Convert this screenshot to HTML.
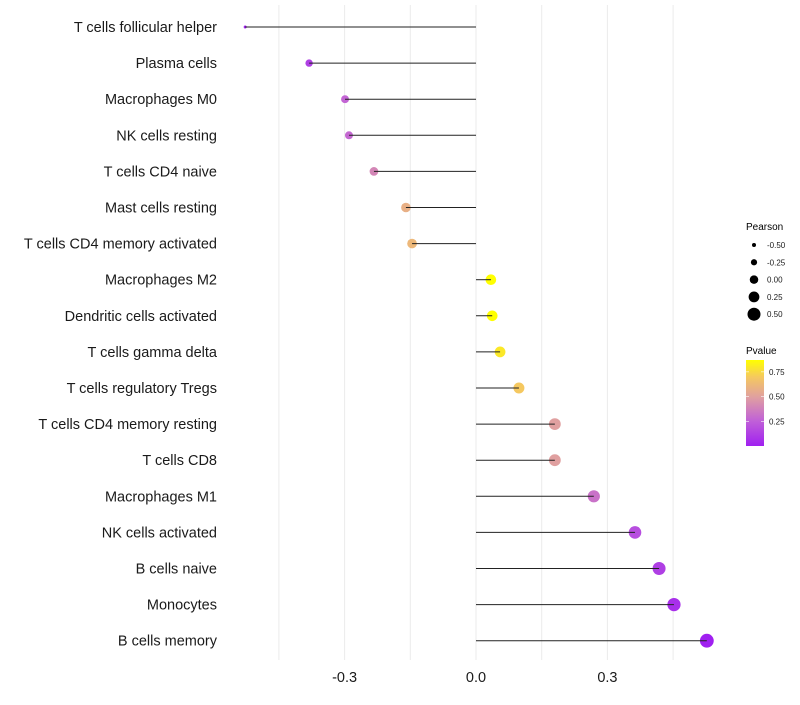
<!DOCTYPE html>
<html><head><meta charset="utf-8"><style>
body{margin:0;background:#fff;font-family:"Liberation Sans",sans-serif;}
svg text{font-family:"Liberation Sans",sans-serif;}
</style></head><body>
<svg id="chart" width="800" height="700" xmlns="http://www.w3.org/2000/svg">
<defs><linearGradient id="pg" x1="0" y1="1" x2="0" y2="0">
<stop offset="0" stop-color="#A020F0"/><stop offset="0.29" stop-color="#C060D8"/><stop offset="0.57" stop-color="#E0A0A0"/><stop offset="0.8" stop-color="#F5C860"/><stop offset="1" stop-color="#FFFF00"/></linearGradient></defs>
<g id="grid"></g>
<g id="dots"></g>
<g id="marks"></g>
<g id="labels"></g>
<g id="xt"></g>
<g>
<text x="746" y="230" font-size="10" fill="#000">Pearson</text>
<g id="sizeleg"></g>
</g>
<g>
<text x="746" y="354" font-size="10" fill="#000">Pvalue</text>
<rect x="746" y="360" width="18" height="86" fill="url(#pg)"/>
<g id="cbleg"></g>
</g>
</svg>
<script>
const categories=["T cells follicular helper","Plasma cells","Macrophages M0","NK cells resting","T cells CD4 naive","Mast cells resting","T cells CD4 memory activated","Macrophages M2","Dendritic cells activated","T cells gamma delta","T cells regulatory  Tregs ","T cells CD4 memory resting","T cells CD8","Macrophages M1","NK cells activated","B cells naive","Monocytes","B cells memory"];
const pearson=[-0.527,-0.381,-0.299,-0.29,-0.233,-0.16,-0.146,0.034,0.037,0.055,0.098,0.18,0.18,0.269,0.363,0.418,0.452,0.527];
const pvalue=[0.0,0.12,0.27,0.28,0.4,0.58,0.62,0.87,0.87,0.8,0.7,0.5,0.5,0.32,0.18,0.12,0.06,0.0];
const xTicks=[-0.3,0,0.3];
const xGrid=[-0.45,-0.3,-0.15,0,0.15,0.3,0.45];
const sizeBreaks=[-0.5,-0.25,0,0.25,0.5];
const cbBreaks=[0.25,0.5,0.75];
const NS="http://www.w3.org/2000/svg";
const x=v=>476+v*438;
const y=i=>27+i*36.1;
const rv=[-0.6,-0.527,-0.381,-0.29,-0.16,0.034,0.1,0.18,0.27,0.36,0.45,0.6];
const rr=[1.5,1.5,3.7,4,4.8,5.3,5.5,5.9,6.1,6.3,6.6,7.2];
function r(v){for(let i=1;i<rv.length;i++){if(v<=rv[i]){return rr[i-1]+(rr[i]-rr[i-1])*(v-rv[i-1])/(rv[i]-rv[i-1]);}}return 7.2;}
const lr=v=>2+(v+0.5)*4.5;
const cby=p=>446-p/0.87*86;
function lerp(a,b,t){return a.map((c,i)=>Math.round(c+(b[i]-c)*t));}
const stops=[[0,[160,32,240]],[0.25,[192,96,216]],[0.5,[224,160,160]],[0.7,[245,200,96]],[0.87,[255,255,0]]];
function col(p){for(let i=1;i<stops.length;i++){if(p<=stops[i][0]){const t=(p-stops[i-1][0])/(stops[i][0]-stops[i-1][0]);return "rgb("+lerp(stops[i-1][1],stops[i][1],t).join(",")+")";}}return "rgb(255,255,0)";}
function mk(t,a,parent){const e=document.createElementNS(NS,t);for(const k in a)e.setAttribute(k,a[k]);document.getElementById(parent).appendChild(e);return e;}
xGrid.forEach(v=>{const l=mk("line",{x1:x(v),x2:x(v),y1:5,y2:660,stroke:"#ebebeb","stroke-width":1},"grid");

});
categories.forEach((c,i)=>{
const d=mk("circle",{cx:x(pearson[i]),cy:y(i),r:r(pearson[i]),fill:col(pvalue[i])},"dots");


const l=mk("line",{x1:x(0),x2:x(pearson[i]),y1:y(i),y2:y(i),stroke:"#222","stroke-width":1},"marks");


const t=mk("text",{x:217,y:y(i)+5,"text-anchor":"end","font-size":14.5,fill:"#1a1a1a"},"labels");t.textContent=c;


});
xTicks.forEach(v=>{const t=mk("text",{x:x(v),y:682,"text-anchor":"middle","font-size":14.5,fill:"#1a1a1a"},"xt");t.textContent=v.toFixed(1);

});
sizeBreaks.forEach((v,i)=>{const cy=245+i*17.3;
const c=mk("circle",{cx:754,cy:cy,r:lr(v),fill:"#000"},"sizeleg");


const t=mk("text",{x:767,y:cy+3,"font-size":8,fill:"#1a1a1a"},"sizeleg");t.textContent=v.toFixed(2);

});
cbBreaks.forEach(v=>{const yy=cby(v);
mk("line",{x1:746,x2:749,y1:yy,y2:yy,stroke:"#fff","stroke-width":0.6},"cbleg");
mk("line",{x1:761,x2:764,y1:yy,y2:yy,stroke:"#fff","stroke-width":0.6},"cbleg");
const t=mk("text",{x:769,y:yy+3,"font-size":8,fill:"#1a1a1a"},"cbleg");t.textContent=v.toFixed(2);

});
</script>
</body></html>
